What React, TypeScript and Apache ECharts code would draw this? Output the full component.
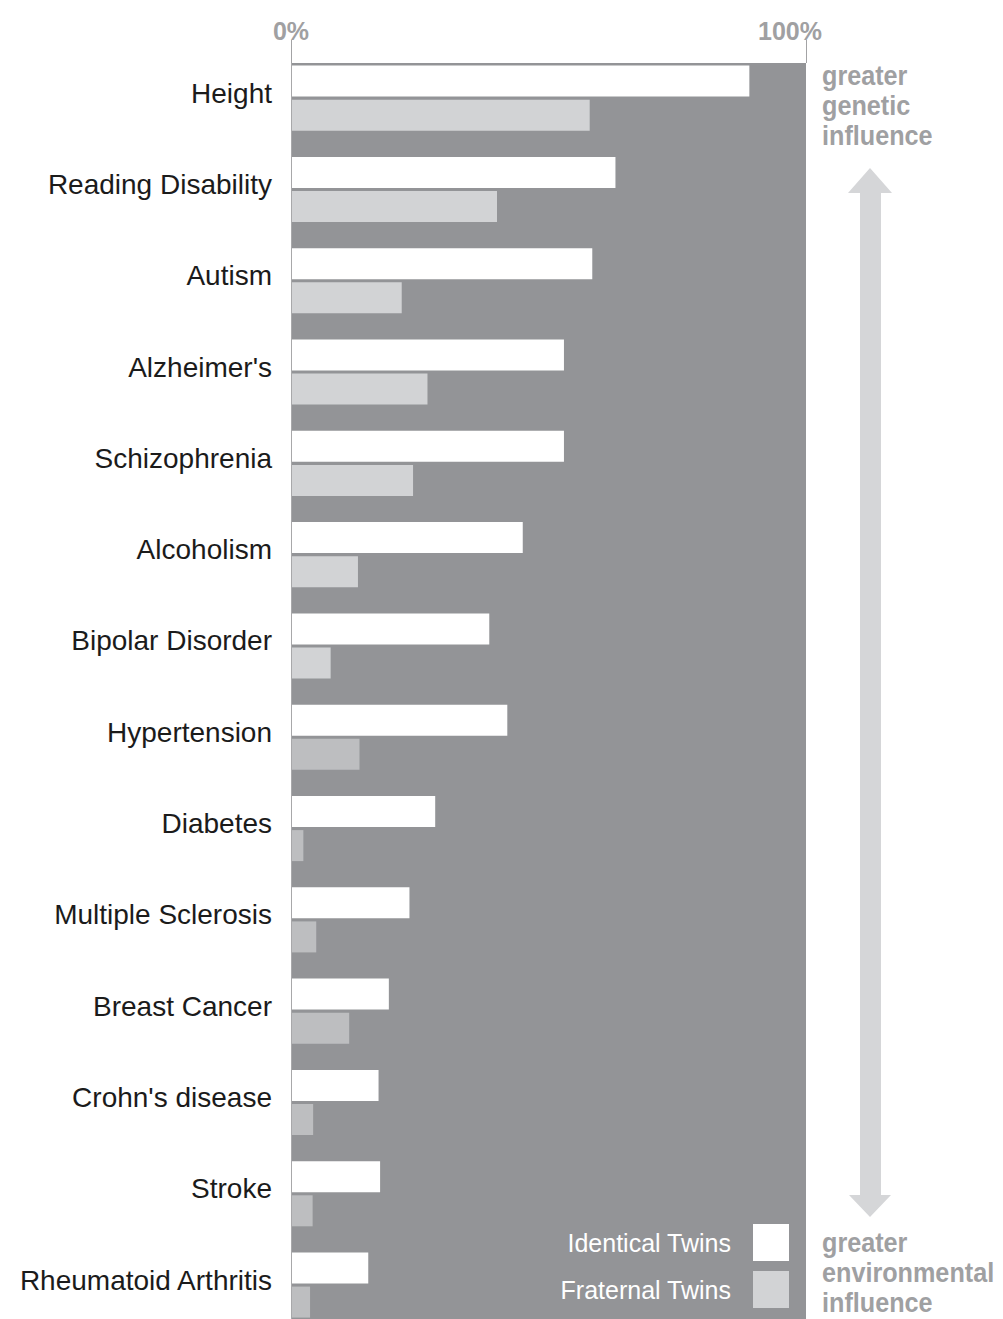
import React, { useEffect, useRef } from "react";
import * as echarts from "echarts";

const categories = [
  "Height",
  "Reading Disability",
  "Autism",
  "Alzheimer's",
  "Schizophrenia",
  "Alcoholism",
  "Bipolar Disorder",
  "Hypertension",
  "Diabetes",
  "Multiple Sclerosis",
  "Breast Cancer",
  "Crohn's disease",
  "Stroke",
  "Rheumatoid Arthritis",
];
const identicalTwins = [89, 63, 58.5, 53, 53, 45, 38.5, 42, 28, 23, 19, 17, 17.3, 15];
const fraternalTwins = [58, 40, 21.5, 26.5, 23.7, 13, 7.7, 13.3, 2.4, 4.9, 11.3, 4.3, 4.2, 3.7];
const xTicks = [0, 100];
const seriesNames = ["Identical Twins", "Fraternal Twins"];
const topNote = "greater\ngenetic\ninfluence";
const bottomNote = "greater\nenvironmental\ninfluence";

const SANS = '"Liberation Sans", Arial, sans-serif';
const BG_GRAY = "#939497";
const FRAT_LIGHT = "#d2d3d5";
const FRAT_DARK = "#bdbec0";
const NOTE_GRAY = "#9fa0a2";
const DARK_FROM = 7;

export default function App() {
  const ref = useRef<HTMLDivElement>(null);
  useEffect(() => {
    if (!ref.current) return;
    const chart = echarts.init(ref.current, undefined, { renderer: "svg" });
    chart.setOption({
      animation: false,
      backgroundColor: "#ffffff",
      grid: { left: 291, right: 197, top: 52.5, height: 91.3 * categories.length, containLabel: false },
      xAxis: {
        type: "value",
        position: "top",
        min: xTicks[0],
        max: xTicks[xTicks.length - 1],
        interval: 100,
        offset: -10.5,
        axisLine: { show: false },
        axisTick: { show: true, length: 23, lineStyle: { color: "#a3a3a5", width: 1 } },
        splitLine: { show: false },
        axisLabel: {
          margin: 20,
          formatter: (v: number) => (v === 100 ? "{r|" + v + "%}" : "{l|" + v + "%}"),
          rich: {
            l: { fontFamily: SANS, fontWeight: "bold", fontSize: 25, color: "#a0a0a2" },
            r: { fontFamily: SANS, fontWeight: "bold", fontSize: 25, color: "#a0a0a2", padding: [0, 32, 0, 0] },
          },
        },
        z: 5,
      },
      yAxis: {
        type: "category",
        inverse: true,
        data: categories,
        axisTick: { show: false },
        axisLine: { show: true, lineStyle: { color: "#a8a8aa", width: 1 } },
        axisLabel: {
          margin: 19,
          formatter: (v: string) => "{a|" + v + "}",
          rich: {
            a: {
              fontFamily: SANS,
              fontSize: 28,
              color: "#1b1b1b",
              padding: [0, 0, 10, 0],
            },
          },
        },
        z: 5,
      },
      legend: {
        data: seriesNames,
        orient: "vertical",
        right: 214,
        top: 1224,
        padding: 0,
        itemWidth: 36,
        itemHeight: 37,
        itemGap: 10,
        align: "right",
        icon: "rect",
        textStyle: { color: "#ffffff", fontSize: 25, fontFamily: SANS, padding: [0, 17, 0, 0] },
      },
      graphic: [
        {
          type: "rect",
          z: -10,
          shape: { x: 291, y: 63, width: 515, height: 1300 },
          style: { fill: BG_GRAY },
          silent: true,
        },
        {
          type: "polygon",
          z: 1,
          shape: {
            points: [
              [870, 168], [848, 193], [860, 193], [860, 1195], [849, 1195],
              [870, 1217], [891, 1195], [881, 1195], [881, 193], [892, 193],
            ],
          },
          style: { fill: "#d5d6d8" },
          silent: true,
        },
        {
          type: "text",
          x: 822,
          y: 61,
          scaleX: 0.9,
          style: { text: topNote, font: "bold 28px " + SANS, fill: NOTE_GRAY, lineHeight: 30, verticalAlign: "top" },
        },
        {
          type: "text",
          x: 822,
          y: 1228,
          scaleX: 0.9,
          style: { text: bottomNote, font: "bold 28px " + SANS, fill: NOTE_GRAY, lineHeight: 30, verticalAlign: "top" },
        },
      ],
      series: [
        {
          name: seriesNames[0],
          type: "bar",
          data: identicalTwins,
          barWidth: 31,
          barGap: "10%",
          itemStyle: { color: "#ffffff" },
          z: 3,
        },
        {
          name: seriesNames[1],
          type: "bar",
          data: fraternalTwins.map((v, i) => ({
            value: v,
            itemStyle: { color: i >= DARK_FROM ? FRAT_DARK : FRAT_LIGHT },
          })),
          barWidth: 31,
          barGap: "10%",
          itemStyle: { color: FRAT_LIGHT },
          z: 3,
        },
      ],
    });
    return () => chart.dispose();
  }, []);
  return (
    <div
      ref={ref}
      style={{ position: "absolute", left: 0, top: 0, width: 1003, height: 1360 }}
    />
  );
}
